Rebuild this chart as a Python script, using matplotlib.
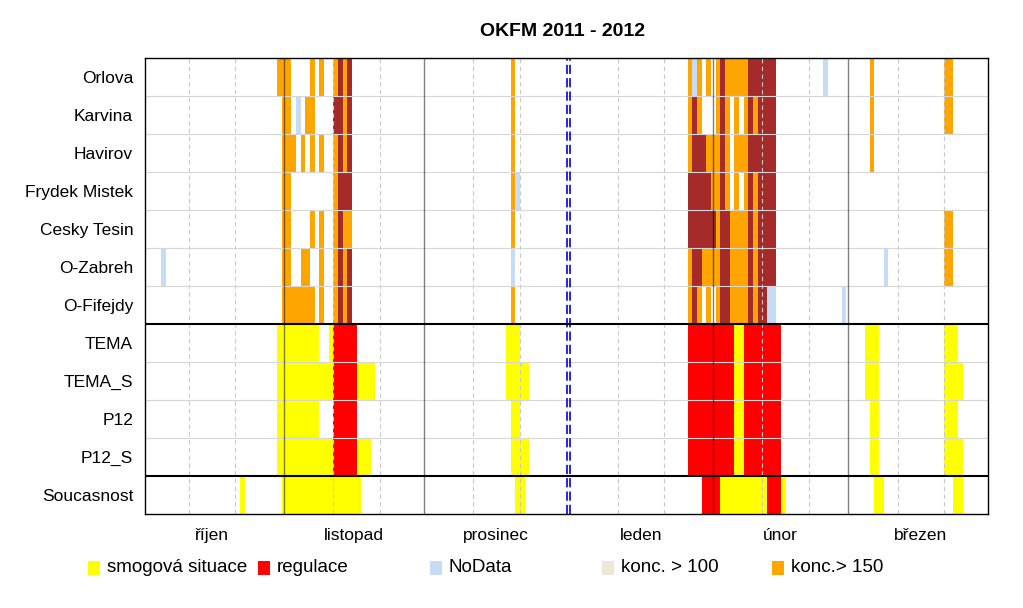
import matplotlib
matplotlib.use("Agg")
import matplotlib.pyplot as plt
from matplotlib.patches import Rectangle

plt.rcParams["font.family"] = ["Liberation Sans", "DejaVu Sans"]

# ----------------------------------
# DATA  (day index from 1 Oct 2011, runs: first day, last day, category)
# ----------------------------------

TITLE = "OKFM 2011 - 2012"

ROWS = ["Orlova", "Karvina", "Havirov", "Frydek Mistek", "Cesky Tesin",
        "O-Zabreh", "O-Fifejdy", "TEMA", "TEMA_S", "P12", "P12_S",
        "Soucasnost"]

MONTHS = ["říjen", "listopad", "prosinec", "leden", "únor", "březen"]
MONTH_DAYS = [31, 30, 31, 31, 29, 31]

# O = konc.> 150, D = dark red (highest), N = NoData, Y = smog, R = regulace
orlova = [(29, 31, "O"), (36, 36, "O"), (38, 38, "O"), (41, 41, "O"),
          (42, 42, "D"), (43, 43, "O"), (44, 44, "D"), (79, 79, "O"),
          (117, 117, "O"), (118, 118, "N"), (119, 119, "O"),
          (121, 121, "O"), (123, 123, "O"), (124, 124, "D"),
          (125, 129, "O"), (130, 135, "D"), (146, 146, "N"),
          (156, 156, "O"), (172, 173, "O")]
karvina = [(30, 31, "O"), (33, 33, "N"), (35, 36, "O"), (41, 42, "D"),
           (43, 43, "O"), (44, 44, "D"), (79, 79, "O"), (117, 117, "O"),
           (118, 118, "D"), (119, 119, "O"), (123, 123, "O"),
           (124, 124, "D"), (125, 125, "O"), (127, 127, "O"),
           (129, 129, "O"), (130, 130, "D"), (131, 131, "O"),
           (132, 135, "D"), (156, 156, "O"), (172, 173, "O")]
havirov = [(30, 32, "O"), (34, 34, "O"), (36, 36, "O"), (38, 38, "O"),
           (41, 41, "O"), (42, 42, "D"), (43, 43, "O"), (44, 44, "D"),
           (79, 79, "O"), (117, 117, "O"), (118, 120, "D"),
           (121, 123, "O"), (124, 124, "D"), (125, 125, "O"),
           (127, 129, "O"), (130, 135, "D"), (156, 156, "O")]
frydek = [(30, 31, "O"), (41, 41, "O"), (42, 44, "D"), (79, 79, "O"),
          (80, 80, "N"), (117, 121, "D"), (122, 123, "O"), (124, 124, "D"),
          (125, 125, "O"), (127, 127, "O"), (129, 129, "O"),
          (130, 130, "D"), (131, 131, "O"), (132, 135, "D")]
cesky = [(30, 31, "O"), (36, 36, "O"), (38, 38, "O"), (41, 41, "O"),
         (42, 42, "D"), (43, 44, "O"), (79, 79, "O"), (117, 122, "D"),
         (123, 123, "O"), (124, 125, "D"), (126, 129, "O"),
         (130, 130, "D"), (131, 131, "O"), (132, 135, "D"),
         (172, 173, "O")]
zabreh = [(4, 4, "N"), (30, 31, "O"), (34, 35, "O"), (38, 38, "O"),
          (41, 41, "O"), (42, 42, "D"), (43, 43, "O"), (44, 44, "D"),
          (79, 79, "N"), (117, 117, "O"), (118, 119, "D"), (120, 123, "O"),
          (124, 125, "D"), (126, 129, "O"), (130, 130, "D"),
          (131, 131, "O"), (132, 135, "D"), (159, 159, "N"),
          (172, 173, "O")]
fifejdy = [(30, 36, "O"), (38, 38, "O"), (41, 41, "O"), (42, 42, "D"),
           (43, 43, "O"), (44, 44, "D"), (79, 79, "O"), (117, 117, "O"),
           (118, 118, "D"), (119, 119, "O"), (121, 121, "O"),
           (123, 123, "O"), (124, 125, "D"), (126, 129, "O"),
           (130, 130, "D"), (131, 131, "O"), (132, 133, "D"),
           (134, 135, "N"), (150, 150, "N")]
tema = [(29, 37, "Y"), (40, 40, "Y"), (41, 45, "R"), (78, 80, "Y"),
        (117, 126, "R"), (127, 128, "Y"), (129, 136, "R"),
        (155, 157, "Y"), (172, 174, "Y")]
tema_s = [(29, 40, "Y"), (41, 45, "R"), (46, 49, "Y"), (78, 82, "Y"),
          (117, 126, "R"), (127, 128, "Y"), (129, 136, "R"),
          (155, 157, "Y"), (172, 175, "Y")]
p12 = [(29, 37, "Y"), (41, 45, "R"), (79, 80, "Y"), (117, 126, "R"),
       (127, 128, "Y"), (129, 136, "R"), (156, 157, "Y"), (172, 174, "Y")]
p12_s = [(29, 40, "Y"), (41, 45, "R"), (46, 48, "Y"), (79, 82, "Y"),
         (117, 126, "R"), (127, 128, "Y"), (129, 136, "R"),
         (156, 157, "Y"), (172, 175, "Y")]
soucasnost = [(21, 21, "Y"), (30, 46, "Y"), (80, 81, "Y"), (120, 123, "R"),
              (124, 133, "Y"), (134, 136, "R"), (137, 137, "Y"),
              (157, 158, "Y"), (174, 175, "Y")]

ROW_DATA = [orlova, karvina, havirov, frydek, cesky, zabreh, fifejdy,
            tema, tema_s, p12, p12_s, soucasnost]

LEGEND_LABELS = ["smogová situace", "regulace", "NoData", "konc. > 100",
                 "konc.> 150"]
LEGEND_KEYS = ["Y", "R", "N", "B", "O"]

COLORS = {
    "Y": "#FFFF00",
    "R": "#FF0000",
    "N": "#C6DCF4",
    "B": "#E9E9D6",
    "O": "#FFA500",
    "D": "#A52A2A",
}

# ----------------------------------
# PLOT
# ----------------------------------

W, H = 1023, 608
fig = plt.figure(figsize=(W / 100, H / 100), dpi=100)
ax = fig.add_axes([145 / W, 1 - 514 / H, (988 - 145) / W, (514 - 58) / H])

for i, runs in enumerate(ROW_DATA):
    for first, last, cat in runs:
        ax.barh(i, last - first + 1, left=first, height=1, align="edge",
                color=COLORS[cat], linewidth=0, zorder=1)

ax.set_xlim(0.6, 181.4)
ax.set_ylim(len(ROWS), 0)

# month boundaries and dekády
starts = [0]
for n in MONTH_DAYS:
    starts.append(starts[-1] + n)

for s in starts[1:-1]:
    if s == 92:
        continue
    ax.axvline(s - 0.6, color="black", alpha=0.5, lw=1, zorder=4)
for s in starts[:-1]:
    for off in (10, 20):
        ax.axvline(s + off, color="#C8C8C8", lw=0.8, ls=(0, (4, 3)),
                   zorder=3)

# year change (1 Jan)
for xv in (91.05, 91.85):
    ax.axvline(xv, color="#0000EE", lw=1.2, ls=(0, (5.5, 2.5)), zorder=5)

# row separators
for r in range(1, len(ROWS)):
    if r in (7, 11):
        ax.axhline(r, color="black", lw=1.5, zorder=6)
    else:
        ax.axhline(r, color="#D6D6D6", lw=0.8, zorder=3)

for sp in ax.spines.values():
    sp.set_color("black")
    sp.set_linewidth(1.0)
    sp.set_zorder(7)

ax.set_yticks([i + 0.5 for i in range(len(ROWS))])
ax.set_yticklabels(ROWS, fontsize=12.5)
centers = [(starts[k] + starts[k + 1]) / 2 - 0.6 for k in range(len(MONTHS))]
ax.set_xticks(centers)
ax.set_xticklabels(MONTHS, fontsize=12.5)
ax.tick_params(axis="both", length=0)
ax.tick_params(axis="y", pad=8.5)
ax.tick_params(axis="x", pad=10)

fig.text(563 / W, 1 - 31 / H, TITLE, ha="center", va="center",
         fontsize=14, fontweight="bold")

# legend row
leg_x = [88, 258, 430, 602, 772]
for x0, key, lab in zip(leg_x, LEGEND_KEYS, LEGEND_LABELS):
    fig.patches.append(Rectangle((x0 / W, 1 - 575 / H), 12 / W, 14 / H,
                                 transform=fig.transFigure,
                                 facecolor=COLORS[key], edgecolor="none"))
    fig.text((x0 + 19) / W, 1 - 568 / H, lab, ha="left", va="center",
             fontsize=13.5)

fig.savefig("out.png", dpi=100)
